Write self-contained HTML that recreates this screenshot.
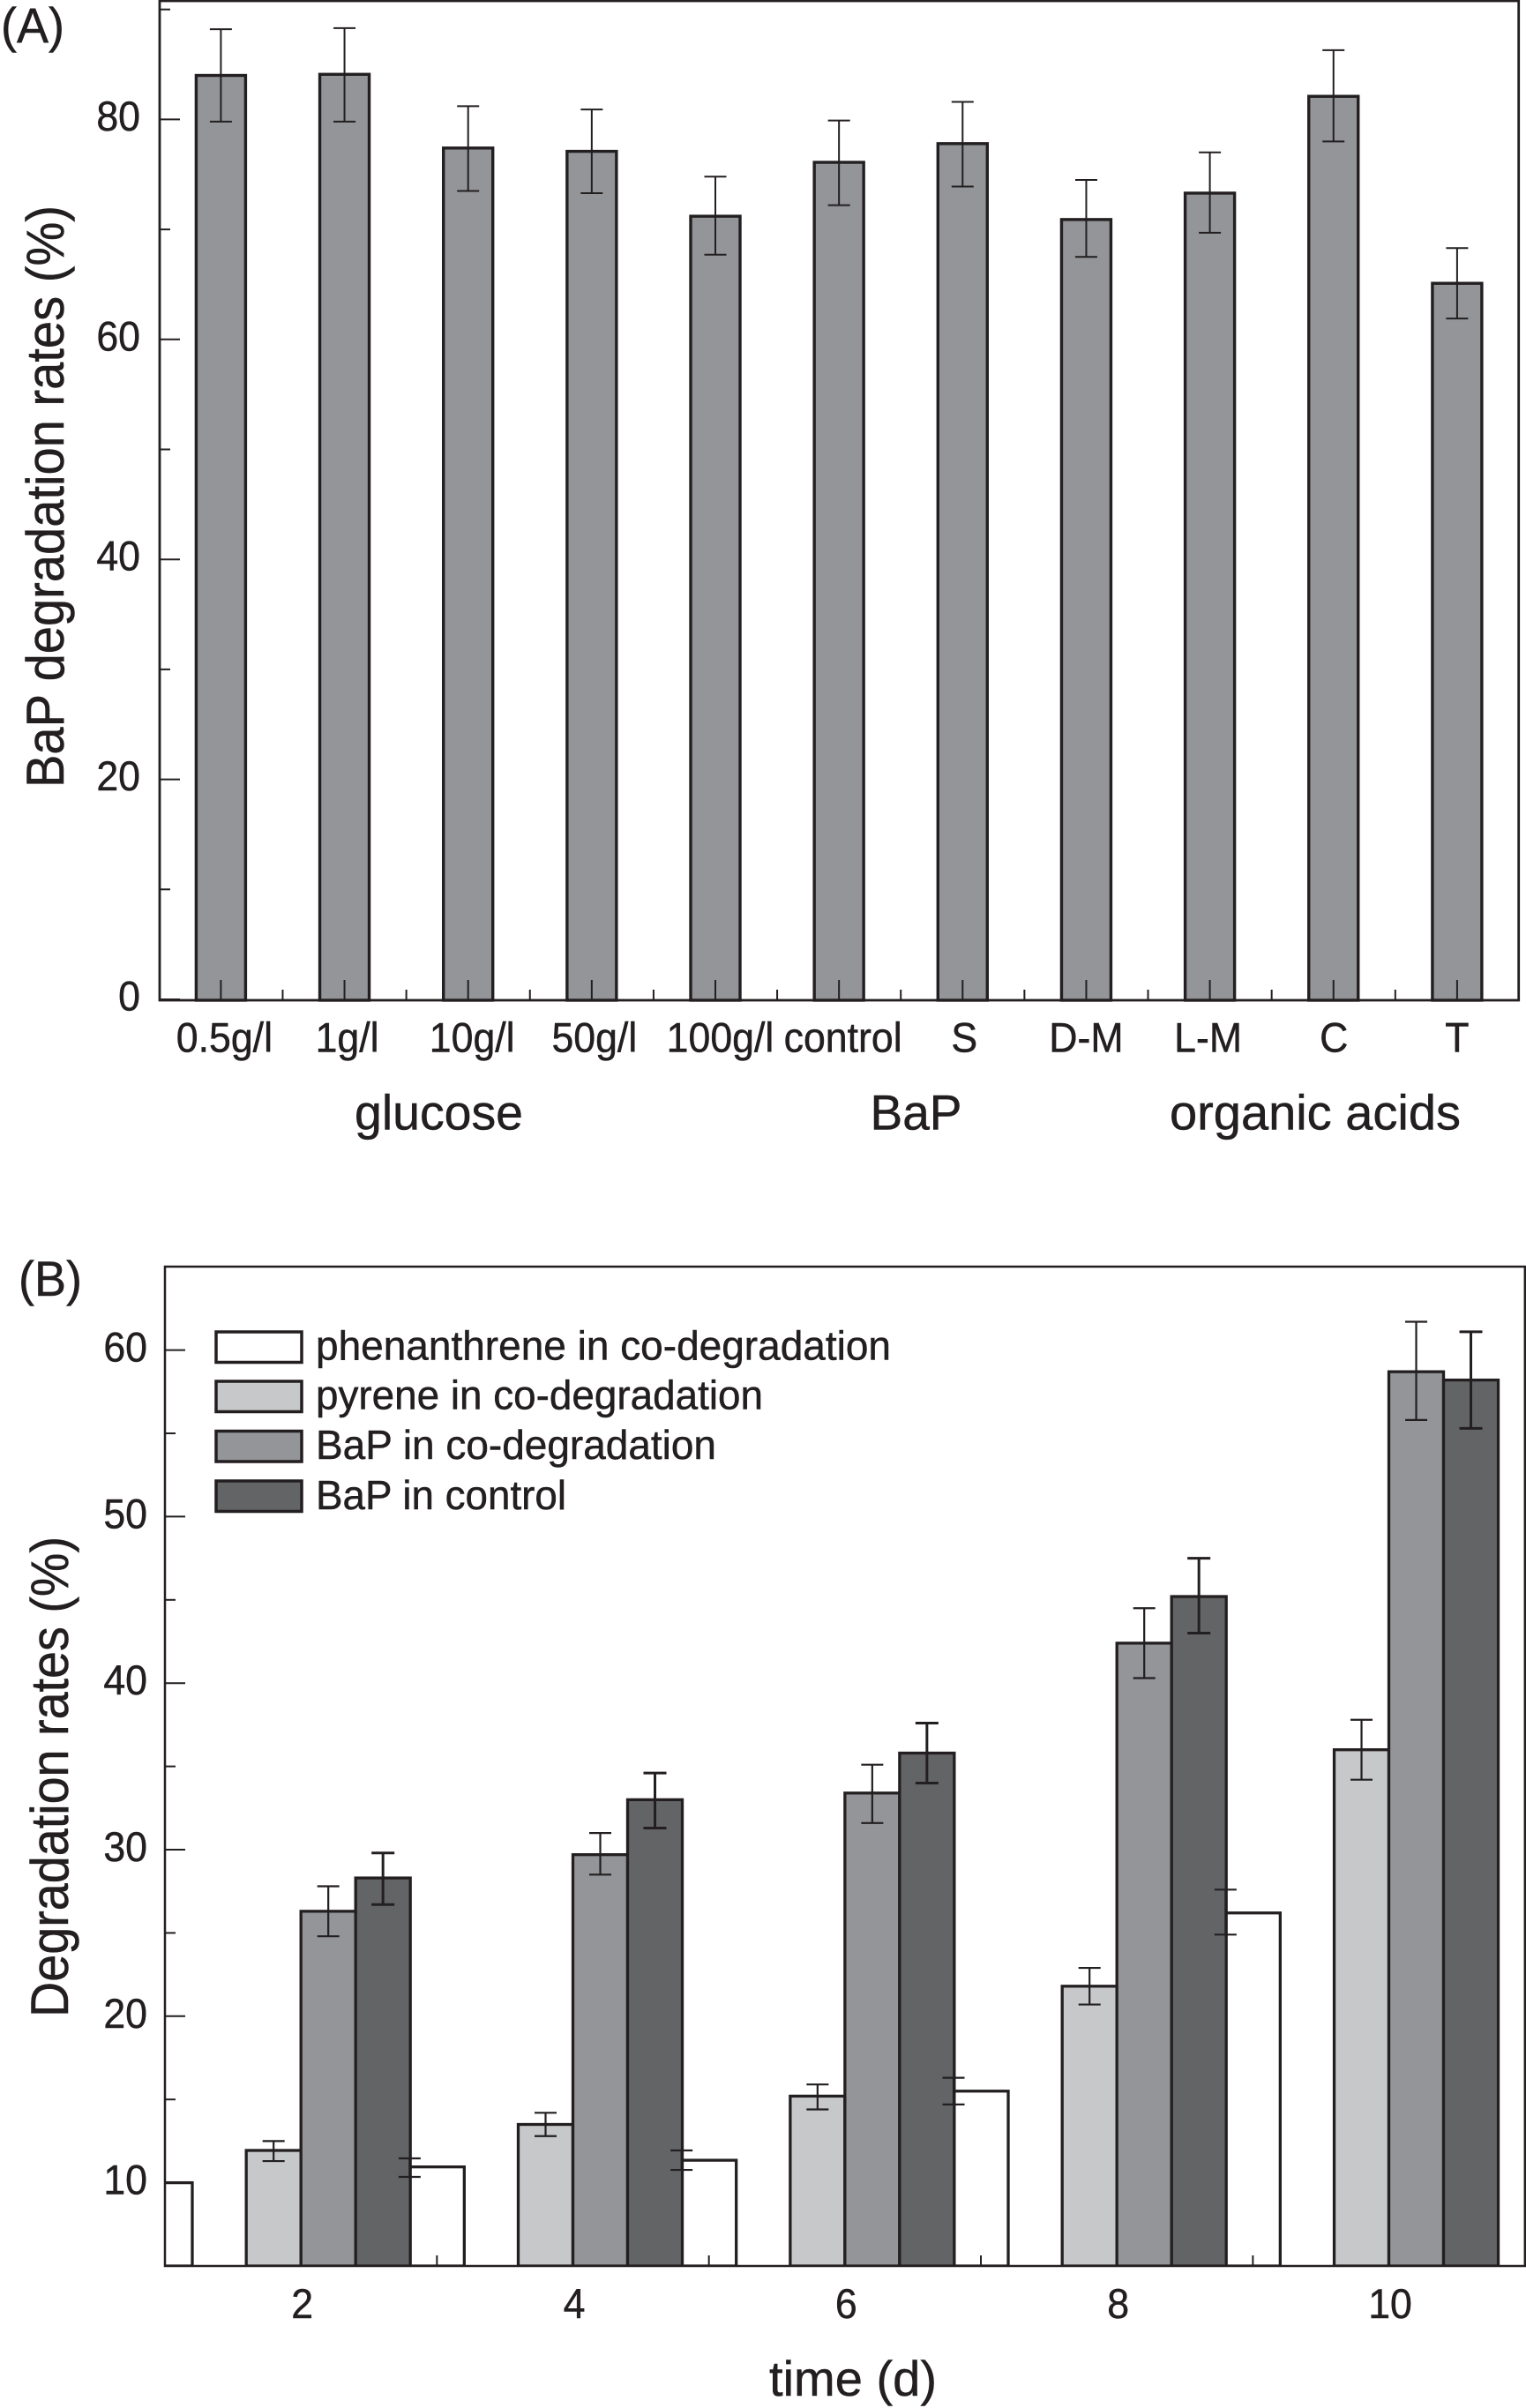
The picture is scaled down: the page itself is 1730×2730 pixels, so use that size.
<!DOCTYPE html>
<html lang="en">
<head>
<meta charset="utf-8">
<title>Degradation rates charts</title>
<style>
html,body{margin:0;padding:0;background:#fff;}
svg{display:block;}
text{font-family:"Liberation Sans",Arial,sans-serif;fill:#231f20;stroke:#231f20;stroke-width:0.5px;}
</style>
</head>
<body>
<svg id="figure" xmlns="http://www.w3.org/2000/svg" width="1730" height="2730" viewBox="0 0 1730 2730">
  <defs>
    <clipPath id="clip-b"><rect x="187" y="1436" width="1543" height="1133"/></clipPath>
  </defs>
  <rect x="0" y="0" width="1730" height="2730" fill="#ffffff"/>

  <g id="panel-a"></g>
  <g id="panel-b"></g>

  <text x="1" y="48" font-size="56" textLength="72" lengthAdjust="spacingAndGlyphs">(A)</text>
  <text transform="translate(72,893) rotate(-90)" font-size="60" textLength="660" lengthAdjust="spacingAndGlyphs">BaP degradation rates (%)</text>
  <text x="402" y="1280.5" font-size="56" textLength="191" lengthAdjust="spacingAndGlyphs">glucose</text>
  <text x="986.5" y="1280.5" font-size="56" textLength="104" lengthAdjust="spacingAndGlyphs">BaP</text>
  <text x="1326" y="1280.5" font-size="56" textLength="330" lengthAdjust="spacingAndGlyphs">organic acids</text>

  <text x="21" y="1469" font-size="56" textLength="72" lengthAdjust="spacingAndGlyphs">(B)</text>
  <text transform="translate(77,2287) rotate(-90)" font-size="60" textLength="545" lengthAdjust="spacingAndGlyphs">Degradation rates (%)</text>
  <text x="872" y="2716" font-size="56" textLength="190" lengthAdjust="spacingAndGlyphs">time (d)</text>

  <g>
    <g>
      <rect x="245" y="1510" width="97" height="34.5" fill="#ffffff" stroke="#231f20" stroke-width="3.5"/>
      <text x="358" y="1541.5" font-size="46" textLength="652" lengthAdjust="spacingAndGlyphs">phenanthrene in co-degradation</text>
    </g>
    <g>
      <rect x="245" y="1566" width="97" height="34.5" fill="#c7c8ca" stroke="#231f20" stroke-width="3.5"/>
      <text x="358" y="1597.5" font-size="46" textLength="507" lengthAdjust="spacingAndGlyphs">pyrene in co-degradation</text>
    </g>
    <g>
      <rect x="245" y="1622.5" width="97" height="34.5" fill="#939598" stroke="#231f20" stroke-width="3.5"/>
      <text x="358" y="1654" font-size="46" textLength="454" lengthAdjust="spacingAndGlyphs">BaP in co-degradation</text>
    </g>
    <g>
      <rect x="245" y="1679" width="97" height="34.5" fill="#636466" stroke="#231f20" stroke-width="3.5"/>
      <text x="358" y="1711" font-size="46" textLength="284" lengthAdjust="spacingAndGlyphs">BaP in control</text>
    </g>
  </g>
</svg>

<script>
/* ---------- Panel A data ---------- */
var categoriesA = ['0.5g/l','1g/l','10g/l','50g/l','100g/l','control','S','D-M','L-M','C','T'];
var ratesA      = [84.0,84.1,77.4,77.1,71.2,76.1,77.8,70.9,73.3,82.1,65.1];
var errHighA    = [88.2,88.3,81.2,80.9,74.8,79.9,81.6,74.5,77.0,86.3,68.3];
var errLowA     = [79.8,79.8,73.5,73.3,67.7,72.2,73.9,67.5,69.7,78.0,61.9];
var yMajorTicksA = [0,20,40,60,80];
var yMinorTicksA = [10,30,50,70,90];

/* ---------- Panel B data ---------- */
var timesOdd  = [1,3,5,7,9];
var timesEven = [2,4,6,8,10];
var phenanthrene     = [10.0,10.95,11.35,15.5,26.2];
var phenanthreneHigh = [10.5,11.46,11.94,16.3,27.6];
var phenanthreneLow  = [9.5,10.35,10.77,14.7,24.9];
var pyrene     = [11.94,13.5,15.2,21.8,36.0];
var pyreneHigh = [12.5,14.2,15.9,22.9,37.8];
var pyreneLow  = [11.3,12.8,14.4,20.7,34.2];
var bapCo      = [26.3,29.7,33.4,42.4,58.7];
var bapCoHigh  = [27.8,31.0,35.1,44.5,61.7];
var bapCoLow   = [24.8,28.5,31.6,40.3,55.8];
var bapControl     = [28.3,33.0,35.8,45.2,58.2];
var bapControlHigh = [29.8,34.6,37.6,47.5,61.1];
var bapControlLow  = [26.7,31.3,34.0,43.0,55.3];
var yMajorTicksB = [10,20,30,40,50,60];
var yMinorTicksB = [15,25,35,45,55];

/* ---------- Drawing ---------- */
var NS = 'http://www.w3.org/2000/svg';
var INK = '#231f20';
function make(tag, attrs, parent) {
  var el = document.createElementNS(NS, tag);
  for (var k in attrs) { el.setAttribute(k, attrs[k]); }
  parent.appendChild(el);
  return el;
}
function slug(s) { return String(s).toLowerCase().replace(/[^a-z0-9]+/g, '-').replace(/^-|-$/g, ''); }

/* axis functions */
function yA(v) { return 1133 - v * 12.47; }
function xA(i) { return 250.4 + i * 140.15; }
function yB(v) { return 2569 - (v - 5) * 18.88; }
function xB(t) { return 187 + (t - 1) * 154.17; }

function drawLabel(parent, text, x, y, anchor, name) {
  var el = make('text', {
    transform: 'translate(' + x + ',' + y + ') scale(0.95,1)',
    'text-anchor': anchor,
    'font-size': 47
  }, parent);
  
  
  el.textContent = text;
  return el;
}
function drawLine(parent, x1, y1, x2, y2, width, name) {
  var el = make('line', { x1: x1, y1: y1, x2: x2, y2: y2, stroke: INK, 'stroke-width': width }, parent);
  
  
  return el;
}
function drawBar(parent, x, top, width, bottom, fill, strokeWidth, name) {
  var el = make('rect', { x: x, y: top, width: width, height: bottom - top, fill: fill, stroke: INK, 'stroke-width': strokeWidth }, parent);
  
  
  return el;
}
function drawError(parent, cx, high, low, capHalf, width, name) {
  var g = make('g', {}, parent);
  
  
  make('path', {
    d: 'M' + cx + ' ' + high + 'V' + low + 'M' + (cx - capHalf) + ' ' + high + 'H' + (cx + capHalf) + 'M' + (cx - capHalf) + ' ' + low + 'H' + (cx + capHalf),
    fill: 'none', stroke: INK, 'stroke-width': width
  }, g);
  return g;
}

/* Panel A */
(function () {
  var panel = document.getElementById('panel-a');
  var labelShift = [4,3,4.5,3,5.5,4.5,2,0,-2,0.5,0];
  var axisY = 1134;
  categoriesA.forEach(function (cat, i) {
    var c = xA(i);
    drawBar(panel, c - 28, yA(ratesA[i]), 56, axisY, '#939598', 3.4, 'bar-' + slug(cat));
    drawError(panel, c, yA(errHighA[i]), yA(errLowA[i]), 12.5, 2, 'error-bar-' + slug(cat));
    drawLine(panel, c, axisY, c, axisY - 23, 2, 'x-tick-' + slug(cat));
    if (i < categoriesA.length - 1) {
      drawLine(panel, c + 70.07, axisY, c + 70.07, axisY - 12, 2, 'x-minor-tick-' + i);
    }
    drawLabel(panel, cat, c + labelShift[i], 1192.7, 'middle', 'x-tick-label-' + slug(cat));
  });
  yMajorTicksA.forEach(function (v) {
    drawLine(panel, 181, yA(v), 204, yA(v), 2, 'y-tick-' + v);
    drawLabel(panel, v, 159, yA(v) + 12.5, 'end', 'y-tick-label-' + v);
  });
  yMinorTicksA.forEach(function (v) {
    drawLine(panel, 181, yA(v), 193, yA(v), 2, 'y-minor-tick-' + v);
  });
  var frame = make('rect', { x: 181, y: 1, width: 1540.7, height: 1133, fill: 'none', stroke: INK, 'stroke-width': 2.8 }, panel);
  
  
})();

/* Panel B */
(function () {
  var panel = document.getElementById('panel-b');
  var plot = make('g', { 'clip-path': 'url(#clip-b)' }, panel);
  
  
  var axisY = 2569, w = 62;

  timesOdd.forEach(function (t, i) {
    drawBar(plot, xB(t) - w / 2, yB(phenanthrene[i]), w, axisY, '#ffffff', 3.3, 'bar-phenanthrene-day-' + t);
  });
  timesEven.forEach(function (t, i) {
    var x = xB(t);
    drawBar(plot, x - w, yB(pyrene[i]), w, axisY, '#c7c8ca', 3.3, 'bar-pyrene-day-' + t);
    drawBar(plot, x, yB(bapCo[i]), w, axisY, '#939598', 3.3, 'bar-bap-co-degradation-day-' + t);
    drawBar(plot, x + w, yB(bapControl[i]), w, axisY, '#636466', 3.3, 'bar-bap-control-day-' + t);
  });
  timesEven.forEach(function (t, i) {
    var x = xB(t);
    drawError(plot, x - w / 2, yB(pyreneHigh[i]), yB(pyreneLow[i]), 12.5, 2.2, 'error-bar-pyrene-day-' + t);
    drawError(plot, x + w / 2, yB(bapCoHigh[i]), yB(bapCoLow[i]), 12.5, 2.2, 'error-bar-bap-co-degradation-day-' + t);
    drawError(plot, x + 1.5 * w, yB(bapControlHigh[i]), yB(bapControlLow[i]), 13, 3, 'error-bar-bap-control-day-' + t);
  });
  timesOdd.forEach(function (t, i) {
    drawError(plot, xB(t) - w / 2, yB(phenanthreneHigh[i]), yB(phenanthreneLow[i]), 12.5, 2.2, 'error-bar-phenanthrene-day-' + t);
    drawLine(plot, xB(t), axisY, xB(t), axisY - 12, 2, 'x-minor-tick-' + t);
  });
  timesEven.forEach(function (t) {
    drawLabel(panel, t, xB(t) + 1.5, 2628, 'middle', 'x-tick-label-' + t);
  });
  yMajorTicksB.forEach(function (v) {
    drawLine(panel, 187, yB(v), 210, yB(v), 2, 'y-tick-' + v);
    drawLabel(panel, v, 167, yB(v) + 13, 'end', 'y-tick-label-' + v);
  });
  yMinorTicksB.forEach(function (v) {
    drawLine(panel, 187, yB(v), 199, yB(v), 2, 'y-minor-tick-' + v);
  });
  var frame = make('rect', { x: 187, y: 1436, width: 1541.8, height: 1133, fill: 'none', stroke: INK, 'stroke-width': 2.5 }, panel);
  
  
})();
</script>
</body>
</html>
